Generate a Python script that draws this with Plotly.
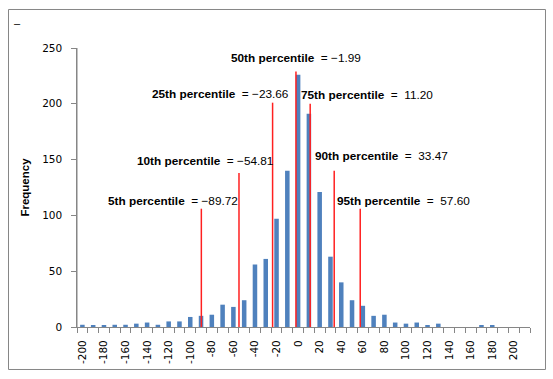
import plotly.graph_objects as go

# ---- data ----
bins = list(range(-200, 211, 10))
freq = [2, 1, 1, 2, 2, 3, 4, 2, 5, 5, 9, 10, 11, 20, 18, 24, 56, 61, 97, 140,
        226, 191, 121, 63, 40, 24, 19, 10, 11, 4, 3, 4, 1, 3, 0, 0, 0, 1, 1, 0, 0, 0]
pct_names = ["5th percentile", "10th percentile", "25th percentile", "50th percentile",
             "75th percentile", "90th percentile", "95th percentile"]
pct_values = [-89.72, -54.81, -23.66, -1.99, 11.20, 33.47, 57.60]
pct_line_tops = [106, 138, 201, 229, 200, 140, 106]
tick_vals = list(range(-200, 201, 20))
tick_text = [str(v) for v in tick_vals]
y_ticks = [0, 50, 100, 150, 200, 250]

fig = go.Figure()
fig.add_trace(go.Bar(x=bins, y=freq, marker=dict(color="#4F81BD", line=dict(width=0)),
                     showlegend=False))
for v, top in zip(pct_values, pct_line_tops):
    fig.add_trace(go.Scatter(x=[v, v], y=[0, top], mode="lines",
                             line=dict(color="#FF2020", width=1.5), showlegend=False,
                             hoverinfo="skip"))

# label placements (data coords)
label_pos = [(-116.4, 112.9), (-86.7, 149.1), (-71.9, 209.1), (-1.9, 241),
             (64, 208.2), (77, 153), (97.4, 112.9)]
ann = []
nb = "\u00a0"
for name, v, (lx, ly) in zip(pct_names, pct_values, label_pos):
    val = ("\u2212" + f"{abs(v):.2f}") if v < 0 else (nb + f"{v:.2f}")
    ann.append(dict(x=lx, y=ly, xref="x", yref="y", showarrow=False,
                    text=f"<b>{name}</b>{nb}{nb}={nb}{val}",
                    font=dict(family="Liberation Sans", size=11.8, color="black")))
ann.append(dict(x=-0.1435, y=1.118, xref="paper", yref="paper", showarrow=False,
                text="\u2013", font=dict(family="Liberation Sans", size=11, color="black")))

fig.update_layout(
    width=553, height=379,
    margin=dict(l=77, r=23, t=48, b=52),
    paper_bgcolor="white", plot_bgcolor="white",
    bargap=0.58,
    annotations=ann,
    shapes=[dict(type="rect", xref="paper", yref="paper", x0=-0.1512, x1=1.0342,
                 y0=-0.1523, y1=1.138, line=dict(color="#868686", width=1), layer="below"),
            dict(type="line", xref="paper", yref="paper", x0=0, x1=0, y0=0, y1=1,
                 line=dict(color="#868686", width=1), layer="above")],
    xaxis=dict(range=[-205, 215], tickmode="array", tickvals=tick_vals, ticktext=tick_text,
               tickangle=-90, ticks="outside", ticklen=8, tickcolor="rgba(0,0,0,0)",
               showline=True, linecolor="#868686", linewidth=1,
               showgrid=False, zeroline=False,
               tickfont=dict(family="DejaVu Sans", size=10.5, color="black"),
               minor=dict(tickmode="linear", tick0=-205, dtick=10, ticks="outside",
                          ticklen=5, tickcolor="#868686", showgrid=False)),
    yaxis=dict(range=[0, 250], tickmode="array", tickvals=y_ticks,
               ticktext=[f"{t}{nb}{nb}" for t in y_ticks], ticks="outside",
               ticklen=5, tickcolor="#868686", showline=True, linecolor="#868686",
               linewidth=1, showgrid=False, zeroline=False,
               tickfont=dict(family="DejaVu Sans", size=10.5, color="black"),
               title=dict(text="<b>Frequency</b>", standoff=10,
                          font=dict(family="Liberation Sans", size=11.5, color="black"))),
)
fig.write_html("out.html", config={"displayModeBar": False},
               post_script="document.body.style.margin='0';document.body.style.overflow='hidden';")
